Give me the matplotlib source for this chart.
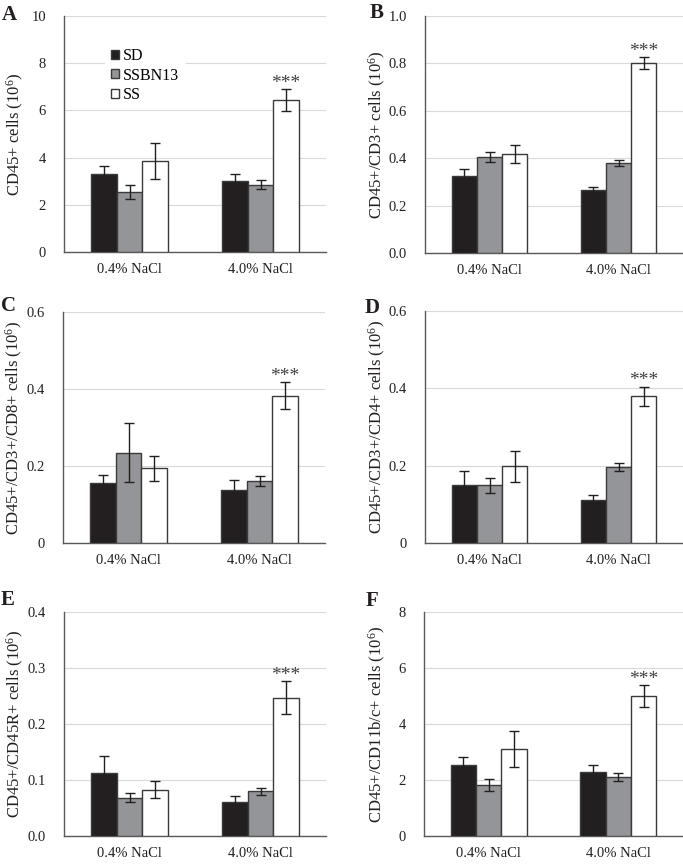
import matplotlib
matplotlib.use("Agg")
import matplotlib.pyplot as plt
import numpy as np
from matplotlib.patches import Patch

plt.rcParams['font.family'] = ['Liberation Serif', 'DejaVu Serif']
plt.rcParams['mathtext.fontset'] = 'custom'
plt.rcParams['mathtext.rm'] = 'Liberation Serif'
plt.rcParams['mathtext.it'] = 'Liberation Serif'
plt.rcParams['mathtext.bf'] = 'Liberation Serif:bold'

groups = ['0.4% NaCl', '4.0% NaCl']
strains = ['SD', 'SSBN13', 'SS']

# values [strain][group]
a_mean = [[3.29, 3.00], [2.54, 2.85], [3.85, 6.45]]
a_err = [[0.36, 0.30], [0.31, 0.20], [0.76, 0.46]]
b_mean = [[0.323, 0.264], [0.404, 0.380], [0.417, 0.801]]
b_err = [[0.032, 0.014], [0.021, 0.011], [0.039, 0.024]]
c_mean = [[0.155, 0.138], [0.235, 0.161], [0.194, 0.383]]
c_err = [[0.022, 0.026], [0.076, 0.013], [0.033, 0.035]]
d_mean = [[0.151, 0.111], [0.149, 0.196], [0.198, 0.379]]
d_err = [[0.034, 0.012], [0.020, 0.011], [0.040, 0.025]]
e_mean = [[0.113, 0.061], [0.068, 0.080], [0.083, 0.247]]
e_err = [[0.030, 0.011], [0.008, 0.006], [0.015, 0.029]]
f_mean = [[2.55, 2.29], [1.82, 2.12], [3.10, 4.99]]
f_err = [[0.27, 0.26], [0.20, 0.14], [0.64, 0.40]]

ylabels = ['CD45+ cells (10$^{6}$)',
           'CD45+/CD3+ cells (10$^{6}$)',
           'CD45+/CD3+/CD8+ cells (10$^{6}$)',
           'CD45+/CD3+/CD4+ cells (10$^{6}$)',
           'CD45+/CD45R+ cells (10$^{6}$)',
           'CD45+/CD11b/c+ cells (10$^{6}$)']
letters = ['A', 'B', 'C', 'D', 'E', 'F']
yticks = [np.arange(0, 10.1, 2), np.arange(0, 1.01, 0.2), np.arange(0, 0.61, 0.2),
          np.arange(0, 0.61, 0.2), np.arange(0, 0.41, 0.1), np.arange(0, 8.1, 2)]
yfmt = ['{:.0f}', '{:.1f}', 'c', 'c', '{:.1f}', '{:.0f}']

colors = ['#231f20', '#939598', '#ffffff']
edge = '#3a3a3a'

W, H = 683, 865
fig = plt.figure(figsize=(W / 100, H / 100), dpi=100)

# pixel boxes: left, right, top, bottom
boxes = [(64, 326, 16, 252), (425, 683, 16, 253),
         (63, 325, 312, 543), (425, 683, 311, 543),
         (64, 326, 612, 836), (424, 683, 612, 836)]
letter_pos = [(9, 15), (377, 13), (9, 306), (372, 308), (8, 600), (372, 601)]
ylabel_x = [15, 377, 14, 377, 15, 377]

means = [a_mean, b_mean, c_mean, d_mean, e_mean, f_mean]
errs = [a_err, b_err, c_err, d_err, e_err, f_err]

bw = 0.195
x = np.arange(len(groups))
for i in range(6):
    l, r, t, b = boxes[i]
    ax = fig.add_axes([l / W, 1 - b / H, (r - l) / W, (b - t) / H])
    ticks = yticks[i]
    ymax = ticks[-1]
    for s in range(3):
        pos = x + (s - 1) * bw
        ax.bar(pos, means[i][s], width=bw, color=colors[s], edgecolor=edge,
               linewidth=1.0, zorder=3)
        ax.errorbar(pos, means[i][s], yerr=errs[i][s], fmt='none',
                    ecolor='#231f20', elinewidth=1.0, capsize=3.5, capthick=1.0, zorder=4)
    top = means[i][2][1] + errs[i][2][1]
    ax.annotate('***', xy=(x[1] + bw, top), xytext=(0, 1), textcoords='offset points',
                ha='center', va='baseline', fontsize=14, color='#404040', zorder=5)
    ax.set_xlim(-0.5, 1.5)
    ax.set_ylim(0, ymax)
    ax.set_yticks(ticks)
    if yfmt[i] == 'c':
        ax.set_yticklabels(['0' if v == 0 else '{:.1f}'.format(v) for v in ticks])
    else:
        ax.set_yticklabels([yfmt[i].format(v) for v in ticks])
    ax.set_xticks(x)
    ax.set_xticklabels(groups)
    ax.tick_params(axis='both', length=0, labelsize=10.5, colors='#231f20')
    ax.tick_params(axis='y', pad=13)
    ax.tick_params(axis='x', pad=8)
    ax.yaxis.grid(True, color='#d9d9d9', linewidth=0.8, zorder=0)
    ax.set_axisbelow(True)
    for sp in ['top', 'right']:
        ax.spines[sp].set_visible(False)
    for sp in ['left', 'bottom']:
        ax.spines[sp].set_color('#595959')
        ax.spines[sp].set_linewidth(1.0)
    fig.text(ylabel_x[i] / W, 1 - ((t + b) / 2) / H, ylabels[i], rotation=90,
             ha='center', va='center', fontsize=12, color='#231f20')
    fig.text(letter_pos[i][0] / W, 1 - letter_pos[i][1] / H, letters[i],
             ha='center', va='center', fontsize=15, fontweight='bold', color='#231f20')
    if i == 0:
        handles = [Patch(facecolor=colors[s], edgecolor=edge, linewidth=1.0) for s in range(3)]
        leg = ax.legend(handles, strains, loc='upper left',
                        bbox_to_anchor=((97 - l) / (r - l), 1 - (34 - t) / (b - t)),
                        frameon=True, fancybox=False, framealpha=1, facecolor='white',
                        edgecolor='none', fontsize=11.5, handlelength=0.5, handleheight=0.5,
                        handletextpad=0.25, labelspacing=0.2, borderpad=0.4)

fig.savefig('out.png', dpi=100)
